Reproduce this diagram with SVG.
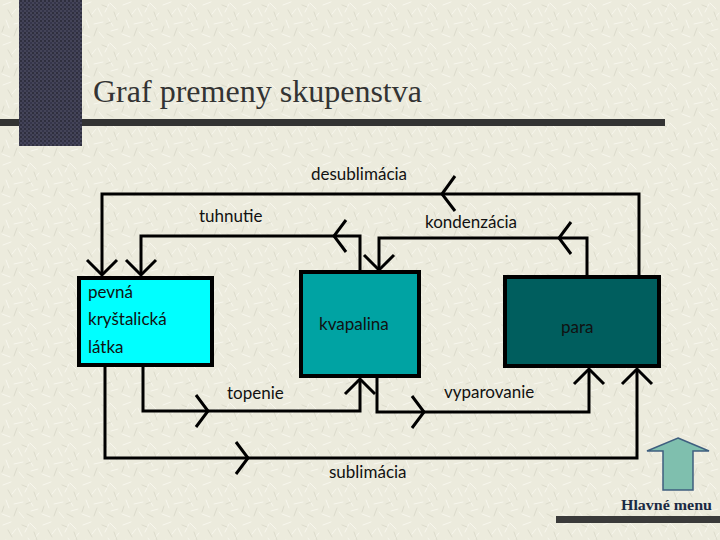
<svg xmlns="http://www.w3.org/2000/svg" width="720" height="540" viewBox="0 0 720 540">
<defs>
<pattern id="bgtex" width="40" height="40" patternUnits="userSpaceOnUse">
<rect width="40" height="40" fill="#ecebdd"/>
<g stroke="#f8f7ee" stroke-width="1" stroke-linecap="round">
<path d="M3 5 L11 2 M18 8 L22 16 M30 3 L36 9 M6 20 L9 28 M14 24 L23 22 M28 18 L33 26 M2 34 L10 37 M19 32 L24 38 M31 31 L38 29 M25 12 L29 4 M12 14 L16 9 M35 18 L39 13"/>
</g>
<g stroke="#dcdbcc" stroke-width="1" stroke-linecap="round">
<path d="M8 10 L12 17 M22 5 L27 7 M34 12 L37 20 M4 26 L2 32 M17 28 L14 36 M27 34 L33 37 M26 24 L31 22"/>
</g>
</pattern>
<pattern id="darktex" width="4" height="4" patternUnits="userSpaceOnUse">
<rect width="4" height="4" fill="#444458"/>
<rect x="0" y="0" width="2" height="2" fill="#2f2f3e"/>
<rect x="2" y="2" width="2" height="2" fill="#35354a"/>
</pattern>
</defs>
<style>
.ln{fill:none;stroke:#000;stroke-width:3}
.chev{fill:none;stroke:#000;stroke-width:3}
.box{stroke:#000;stroke-width:4}
.lbl{font-family:"Lato","Noto Sans",sans-serif;font-size:17px;fill:#111}
.title{font-family:"Liberation Serif","Times New Roman",serif;font-size:31px;fill:#333333}
</style>
<rect width="720" height="540" fill="url(#bgtex)"/>
<rect x="19" y="0" width="63" height="146" fill="url(#darktex)"/>
<rect x="0" y="119" width="19" height="7" fill="#333333"/>
<rect x="82" y="119" width="583" height="7" fill="#333333"/>
<rect x="556" y="516" width="164" height="7" fill="#3a3a3a"/>
<text class="title" x="93" y="102" textLength="329" lengthAdjust="spacingAndGlyphs">Graf premeny skupenstva</text>

<g id="connectors">
<!-- desublimacia -->
<polyline class="ln" points="639,275 639,194 102,194 102,275"/>
<path class="chev" d="M455 176 L442 194 L455 211"/>
<path class="chev" d="M87 260 L102 275 L117 260"/>
<!-- tuhnutie -->
<polyline class="ln" points="360,270 360,236 141,236 141,275"/>
<path class="chev" d="M346 220 L334 236 L346 252"/>
<path class="chev" d="M126 260 L141 275 L156 260"/>
<!-- kondenzacia -->
<polyline class="ln" points="587,275 587,238 379,238 379,270"/>
<path class="chev" d="M571 222 L559 238 L571 254"/>
<path class="chev" d="M364 255 L379 270 L394 255"/>
<!-- topenie -->
<polyline class="ln" points="143,367 143,411 360,411 360,379"/>
<path class="chev" d="M196 395 L208 411 L196 427"/>
<path class="chev" d="M345 394 L360 379 L375 394"/>
<!-- vyparovanie -->
<polyline class="ln" points="377,378 377,412 589,412 589,369"/>
<path class="chev" d="M412 396 L424 412 L412 428"/>
<path class="chev" d="M574 384 L589 369 L604 384"/>
<!-- sublimacia -->
<polyline class="ln" points="105,367 105,458 637,458 637,369"/>
<path class="chev" d="M236 442 L248 458 L236 474"/>
<path class="chev" d="M622 384 L637 369 L652 384"/>
</g>

<g id="labels">
<text class="lbl" x="311" y="180">desublimácia</text>
<text class="lbl" x="199" y="222">tuhnutie</text>
<text class="lbl" x="425" y="228">kondenzácia</text>
<text class="lbl" x="227" y="399">topenie</text>
<text class="lbl" x="444" y="398">vyparovanie</text>
<text class="lbl" x="329" y="478">sublimácia</text>
</g>

<g id="pevna">
<rect class="box" x="79" y="278" width="133" height="87" fill="#00ffff"/>
<text class="lbl" x="88" y="298">pevná</text>
<text class="lbl" x="88" y="325">kryštalická</text>
<text class="lbl" x="88" y="353">látka</text>
</g>
<g id="kvapalina">
<rect class="box" x="301" y="272" width="118" height="104" fill="#00a3a3"/>
<text class="lbl" x="319" y="330">kvapalina</text>
</g>
<g id="para">
<rect class="box" x="505" y="277" width="154" height="89" fill="#005e5e"/>
<text class="lbl" x="561" y="333">para</text>
</g>

<g id="hlavne-menu">
<path d="M678 438 L709 451 L693 451 L693 490 L663 490 L663 451 L647 451 Z" fill="#7fbfae" stroke="#3f5f7f" stroke-width="1.5"/>
<text x="621" y="510" font-family="Liberation Serif,serif" font-weight="bold" font-size="15" fill="#1a2a44" textLength="91" lengthAdjust="spacingAndGlyphs">Hlavné menu</text>
</g>
</svg>
